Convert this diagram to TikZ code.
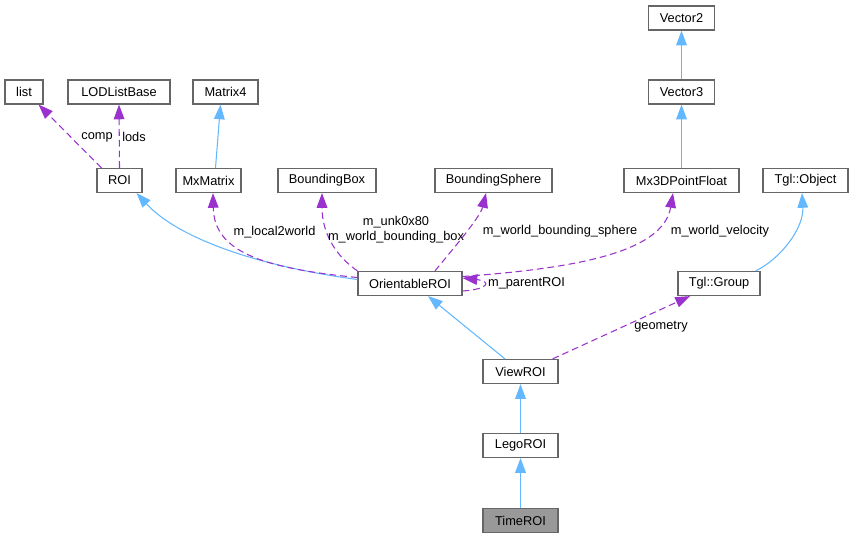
\documentclass[tikz,border=0pt]{standalone}
\usepackage{fontspec}
\setmainfont{Liberation Sans}
\usetikzlibrary{arrows.meta,calc}
\definecolor{inhblue}{HTML}{63B8FF}
\definecolor{usepurple}{HTML}{9A32CD}
\definecolor{boxgray}{HTML}{666666}
\definecolor{curfill}{HTML}{999999}
\begin{document}
\begin{tikzpicture}[x=0.75pt,y=-0.75pt,
    font=\fontsize{9.6}{11}\selectfont,
    inherit/.style={draw=inhblue,line width=0.8pt,-{Triangle[length=11pt,width=8pt]}},
    uses/.style={draw=usepurple,line width=0.8pt,dash pattern=on 5pt off 3pt,-{Triangle[length=11pt,width=8pt]}},
    lbl/.style={inner sep=0pt}]

        \useasboundingbox (0,0) rectangle (853,539);

        \begin{scope}[every node/.style={rectangle,draw=boxgray,line width=0.9pt,fill=white,minimum height=18pt,inner sep=0pt}]
          \node[minimum width=50pt]    (vec2)      at (681.5,18)  {Vector2};
          \node[minimum width=28.5pt]  (list)      at (24,92)     {list};
          \node[minimum width=76.5pt]  (lodlist)   at (119,92)    {LODListBase};
          \node[minimum width=48.75pt] (matrix4)   at (225.5,92)  {Matrix4};
          \node[minimum width=50pt]    (vec3)      at (681.5,92)  {Vector3};
          \node[minimum width=33.75pt] (roi)       at (119.5,180.5) {ROI};
          \node[minimum width=48.75pt] (mxmatrix)  at (208.5,180.5) {MxMatrix};
          \node[minimum width=73.5pt]  (bbox)      at (327,180.5) {BoundingBox};
          \node[minimum width=87.75pt] (bsphere)   at (493.5,180.5) {BoundingSphere};
          \node[minimum width=86.25pt] (mx3d)      at (681.5,180.5) {Mx3DPointFloat};
          \node[minimum width=63.75pt] (tglobject) at (805.5,180.5) {Tgl::Object};
          \node[minimum width=78pt]    (orient)    at (410,283.5) {OrientableROI};
          \node[minimum width=61.5pt]  (tglgroup)  at (719,283.5) {Tgl::Group};
          \node[minimum width=56.25pt] (viewroi)   at (520.5,371.5) {ViewROI};
          \node[minimum width=56.25pt] (legoroi)   at (520.5,445.5) {LegoROI};
          \node[minimum width=56.25pt,fill=curfill] (timeroi) at (520.5,520.5) {TimeROI};
        \end{scope}

        % inheritance
        \begin{scope}[every edge/.style={inherit}]
          \path (vec3)    edge (vec2);
          \path (mx3d)    edge (vec3);
          \path ($(mxmatrix.north)+(7,0)$) edge ($(matrix4.south)+(-5,0)$);
          \path ($(viewroi.north)+(-15.5,0)$) edge ($(orient.south)+(18,0)$);
          \path (legoroi) edge (viewroi);
          \path (timeroi) edge (legoroi);
        \end{scope}
        \draw[inherit] ($(orient.west)+(0,-4)$) .. controls +(-108,-14.5) and +(39,42.5) .. ($(roi.south east)+(-6,0)$);
        \draw[inherit] ($(tglgroup.north east)+(-5,0)$) .. controls +(25,-12) and +(2,35) .. ($(tglobject.south)+(-3.5,0)$);

        % members
        \begin{scope}[every edge/.style={uses}]
          \path ($(roi.north west)+(5,0)$) edge ($(list.south east)+(-5,0)$);
          \path (roi.north) edge (lodlist.south);
          \path ($(viewroi.north east)+(-6,0)$) edge ($(tglgroup.south)+(-29,0)$);
        \end{scope}
        \draw[uses] ($(orient.west)+(0,-6)$) .. controls +(-98,-9.5) and +(1,57.5) .. ($(mxmatrix.south)+(4.5,0)$);
        \draw[uses] (orient.north west) .. controls +(-28,-19.5) and +(0,32.5) .. ($(bbox.south)+(-5,0)$);
        \draw[uses] ($(orient.north)+(25,0)$) .. controls +(12,-15) and +(-6,25) .. ($(bsphere.south)+(-7.5,0)$);
        \draw[uses] ($(orient.east)+(0,-7)$) .. controls +(110,-8) and +(-10,60) .. ($(mx3d.south)+(-8.5,0)$);
        \draw[uses] ($(orient.east)+(0,7.5)$) .. controls +(28,-2) and +(28,3) .. ($(orient.east)+(0,-5.5)$);

        \begin{scope}[every node/.style={lbl}]
          \node (lcomp)   at (97,137)    {comp};
          \node (llods)   at (134,137)   {lods};
          \node (lloc)    at (274.5,232) {m\_local2world};
          \node[align=center] (lbox) at (396,230) {m\_unk0x80\\m\_world\_bounding\_box};
          \node (lsphere) at (560,231)   {m\_world\_bounding\_sphere};
          \node (lvel)    at (720,231)   {m\_world\_velocity};
          \node (lparent) at (526.5,283) {m\_parentROI};
          \node (lgeom)   at (661,327)   {geometry};
        \end{scope}

      \end{tikzpicture}
\end{document}
